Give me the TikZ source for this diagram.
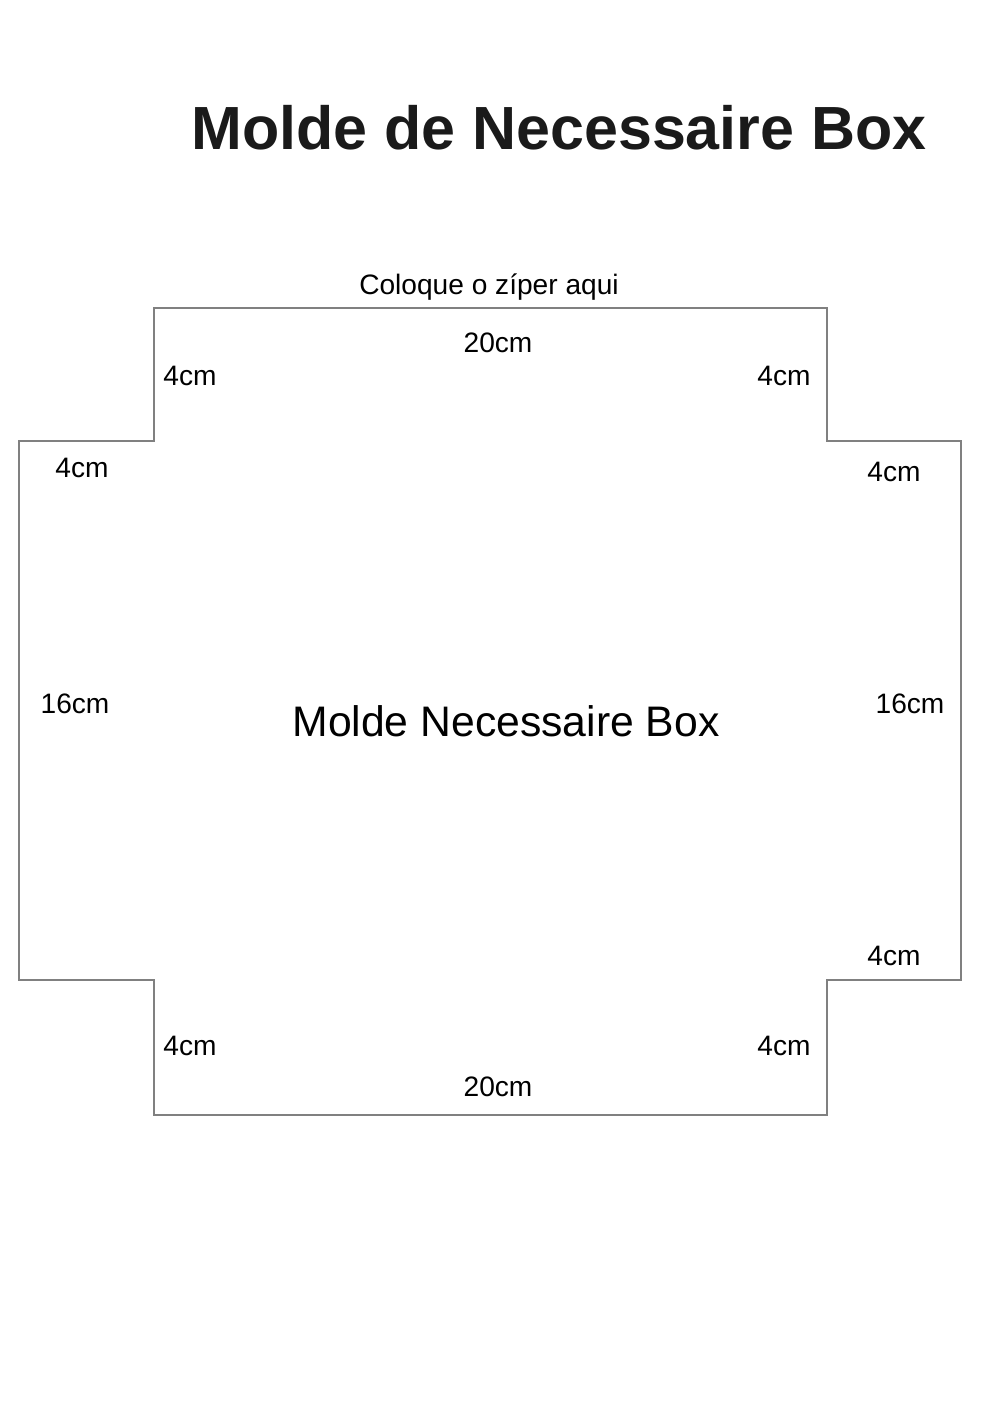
\documentclass[tikz,border=0pt]{standalone}
\usepackage{fontspec}
\setmainfont{Liberation Sans}
\definecolor{cutline}{RGB}{128,128,128}
\definecolor{titleink}{RGB}{26,26,26}
\begin{document}
\begin{tikzpicture}[x=0.02cm, y=-0.02cm, inner sep=0pt,
    lbl/.style={font=\fontsize{16}{19}\selectfont},
    cut/.style={draw=cutline, line width=0.7pt}]
\useasboundingbox (0,0) rectangle (1000,1414);

\node[font=\fontsize{34.7}{40}\selectfont\bfseries, text=titleink] (title) at (559,128) {Molde de Necessaire Box};

% contorno do molde
\draw[cut] (154,308)--(827,308)--(827,441)--(961,441)--(961,980)--(827,980)
    --(827,1115)--(154,1115)--(154,980)--(19,980)--(19,441)--(154,441)--cycle;

\node[lbl] (ziper) at (489,287) {Coloque o zíper aqui};
\node[font=\fontsize{24.3}{29}\selectfont] (centro) at (506,721) {Molde Necessaire Box};

\node[lbl] (topo) at (498,343) {20cm};
\node[lbl] (base) at (498,1087) {20cm};
\node[lbl] (esq) at (75,704) {16cm};
\node[lbl] (dir) at (910,704) {16cm};

\foreach \x/\y/\nome in {190/376/a,784/376/b,82/468/c,894/472/d,894/956/e,190/1046/f,784/1046/g}
{
    \node[lbl] (lado\nome) at (\x,\y) {4cm};
}
\end{tikzpicture}
\end{document}
